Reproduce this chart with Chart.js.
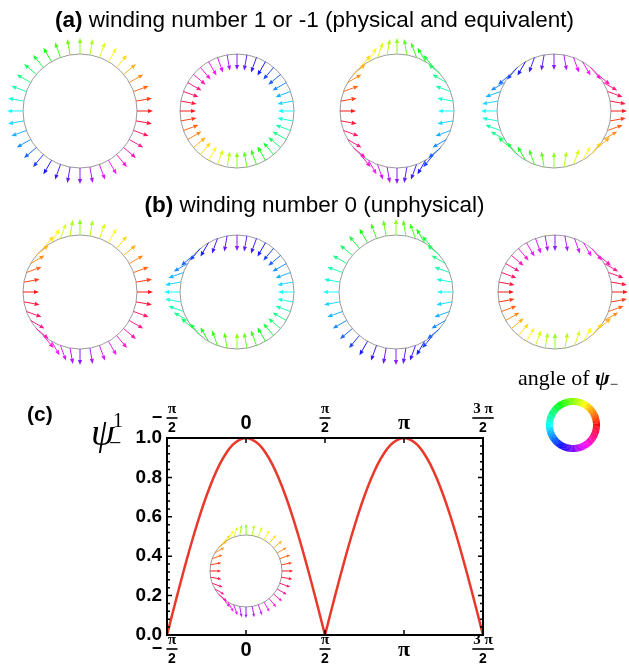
<!DOCTYPE html>
<html lang="en">
<head>
<meta charset="UTF-8">
<title>winding number</title>
<script src="https://cdn.jsdelivr.net/npm/chart.js"></script>
<style>
  body { margin: 0; background: #fff; font-family: "Liberation Sans", Arial, sans-serif; color: #000; }
  #wrap { position: relative; width: 629px; height: 671px; overflow: hidden; }
  #fig { position: absolute; left: 0; top: 0; }
  .lbl { position: absolute; white-space: nowrap; line-height: 1; }
  .title { left: 0; width: 629px; text-align: center; font-size: 22.5px; }
  .serif { font-family: "Liberation Serif", "DejaVu Serif", serif; }
</style>
</head>
<body>
<div id="wrap">
  <canvas id="fig" width="629" height="671"></canvas>
  <div class="lbl title" style="top:9px"><b>(a)</b> winding number 1 or -1 (physical and equivalent)</div>
  <div class="lbl title" style="top:194px"><b>(b)</b> winding number 0 (unphysical)</div>
  <div class="lbl" style="left:27px;top:403px;font-size:21px;font-weight:bold">(c)</div>
  <div class="lbl serif" style="left:91px;top:413px;font-size:38px;font-style:italic">ψ</div>
  <div class="lbl serif" style="left:113px;top:410px;font-size:20px">1</div>
  <div class="lbl serif" style="left:109px;top:432px;font-size:22px">−</div>
  <div class="lbl serif" style="left:518px;top:367px;font-size:22px">angle of <b><i>ψ</i></b><span style="font-size:15px;position:relative;top:4px">−</span></div>
</div>
<script>
// curve: psi^1_-, x step pi/24 from -pi/2 to 3pi/2
const xStart = -Math.PI / 2;
const xStep = Math.PI / 24;
const psiValues = [
  0, 0.131, 0.259, 0.383, 0.5, 0.609, 0.707, 0.793, 0.866, 0.924, 0.966, 0.991, 1,
  0.991, 0.966, 0.924, 0.866, 0.793, 0.707, 0.609, 0.5, 0.383, 0.259, 0.131, 0,
  0.131, 0.259, 0.383, 0.5, 0.609, 0.707, 0.793, 0.866, 0.924, 0.966, 0.991, 1,
  0.991, 0.966, 0.924, 0.866, 0.793, 0.707, 0.609, 0.5, 0.383, 0.259, 0.131, 0
];
// index ranges of the two arches (the cusp sits between them)
const arches = [[0, 24], [24, 48]];

// x tick labels (value in units of pi)
const xTickPi = [-0.5, 0, 0.5, 1, 1.5];
const xTickSign = ['−', '', '', '', ''];
const xTickNum = ['π', '0', 'π', 'π', '3 π'];
const xTickDen = ['2', '', '2', '', '2'];

// arrow diagrams: which field each circle shows
// dir = offset + sign * phi   (fold: phi replaced by asin(sin phi))
const topFields = [
  { offset: 0, sign: 1, fold: false },
  { offset: 180, sign: 1, fold: false },
  { offset: 180, sign: -1, fold: false },
  { offset: 0, sign: -1, fold: false }
];
const bottomFields = [
  { offset: 0, sign: 1, fold: true },
  { offset: 180, sign: 1, fold: true },
  { offset: 180, sign: -1, fold: true },
  { offset: 0, sign: -1, fold: true }
];
const topCentersX = [80, 237, 397, 554];
const bottomCentersX = [80, 237, 396, 555];
const insetAt = { x: 0, y: 0.325 };

const rad = Math.PI / 180;
const points = psiValues.map((v, i) => ({ x: xStart + i * xStep, y: v }));

function fieldDir(f, phi) {
  let p = phi;
  if (f.fold) p = Math.asin(Math.sin(phi));
  return f.offset * rad + f.sign * p;
}

function arrow(ctx, x, y, a, len, head, color) {
  const ux = Math.cos(a), uy = -Math.sin(a);
  const tx = x + ux * len, ty = y + uy * len;
  const bx = tx - ux * head, by = ty - uy * head;
  const w = head * 0.42;
  ctx.strokeStyle = color;
  ctx.fillStyle = color;
  ctx.lineWidth = 1;
  ctx.beginPath();
  ctx.moveTo(x, y);
  ctx.lineTo(bx, by);
  ctx.stroke();
  ctx.beginPath();
  ctx.moveTo(tx, ty);
  ctx.lineTo(bx - uy * w, by + ux * w);
  ctx.lineTo(bx + uy * w, by - ux * w);
  ctx.closePath();
  ctx.fill();
}

function hueOf(a) {
  let h = (a / rad) % 360;
  if (h < 0) h += 360;
  return 'hsl(' + h.toFixed(1) + ',100%,55%)';
}

function diagram(ctx, cx, cy, r, len, head, f) {
  ctx.save();
  ctx.strokeStyle = '#9a9a9a';
  ctx.lineWidth = 1;
  ctx.beginPath();
  ctx.arc(cx, cy, r, 0, 2 * Math.PI);
  ctx.stroke();
  for (let k = 0; k < 36; k++) {
    const phi = k * 10 * rad;
    const px = cx + r * Math.cos(phi), py = cy - r * Math.sin(phi);
    const d = fieldDir(f, phi);
    arrow(ctx, px, py, d, len, head, hueOf(d));
  }
  ctx.restore();
}

const figurePlugin = {
  id: 'figure',
  beforeDatasetsDraw(chart) {
    const ctx = chart.ctx;
    const sx = chart.scales.x, sy = chart.scales.y;
    diagram(ctx, sx.getPixelForValue(insetAt.x), sy.getPixelForValue(insetAt.y), 36, 11, 3.5, bottomFields[0]);
  },
  afterDraw(chart) {
    const ctx = chart.ctx;
    const { left, right, top, bottom } = chart.chartArea;
    const sx = chart.scales.x, sy = chart.scales.y;
    ctx.save();
    // frame
    ctx.strokeStyle = '#000';
    ctx.lineWidth = 2;
    ctx.strokeRect(left, top, right - left, bottom - top);
    // ticks, pointing inward
    ctx.lineWidth = 1.5;
    ctx.beginPath();
    xTickPi.forEach(v => {
      const x = sx.getPixelForValue(v * Math.PI);
      ctx.moveTo(x, bottom); ctx.lineTo(x, bottom - 5);
      ctx.moveTo(x, top); ctx.lineTo(x, top + 5);
    });
    for (let i = 0; i <= 25; i++) {
      const y = sy.getPixelForValue(i * 0.04);
      const l = i % 5 === 0 ? 5 : 3;
      ctx.moveTo(left, y); ctx.lineTo(left + l, y);
      ctx.moveTo(right, y); ctx.lineTo(right - l, y);
    }
    ctx.stroke();
    // x tick labels, top and bottom
    ctx.fillStyle = '#000';
    ctx.textAlign = 'center';
    ctx.textBaseline = 'middle';
    [{ bar: 418, mid: 423 }, { bar: 649, mid: 650 }].forEach(pos => {
      xTickPi.forEach((v, i) => {
        const x = sx.getPixelForValue(v * Math.PI);
        if (!xTickDen[i]) {
          ctx.font = (xTickNum[i] === 'π' ? 'bold 22px "Liberation Serif"' : 'bold 20px "Liberation Sans"');
          ctx.fillText(xTickNum[i], x, pos.mid);
          return;
        }
        let fx = x;
        if (xTickSign[i]) {
          ctx.font = 'bold 18px "Liberation Sans"';
          ctx.fillText(xTickSign[i], x - 10, pos.bar);
          fx = x + 5;
        }
        ctx.font = 'bold 15px "Liberation Serif"';
        const wn = ctx.measureText(xTickNum[i]).width;
        ctx.fillText(xTickNum[i], fx, pos.bar - 9);
        ctx.font = 'bold 14px "Liberation Sans"';
        ctx.fillText(xTickDen[i], fx, pos.bar + 10);
        ctx.fillRect(fx - Math.max(wn, 9) / 2 - 1, pos.bar - 0.8, Math.max(wn, 9) + 2, 1.6);
      });
    });
    ctx.restore();
    // arrow diagrams of panels (a) and (b)
    topFields.forEach((f, i) => diagram(ctx, topCentersX[i], 111, 57, 16, 5, f));
    bottomFields.forEach((f, i) => diagram(ctx, bottomCentersX[i], 292, 57, 16, 5, f));
    // hue ring legend
    ctx.save();
    ctx.lineWidth = 7;
    for (let d = 0; d < 360; d += 2) {
      ctx.strokeStyle = 'hsl(' + d + ',100%,50%)';
      ctx.beginPath();
      ctx.arc(573, 425, 23.5, -(d + 2.5) * rad, -d * rad);
      ctx.stroke();
    }
    ctx.restore();
  }
};

new Chart(document.getElementById('fig').getContext('2d'), {
  type: 'line',
  data: {
    datasets: arches.map(([a, b]) => ({
      data: points.slice(a, b + 1),
      borderColor: '#e8392b',
      borderWidth: 2.5,
      pointRadius: 0,
      tension: 0.4,
      fill: false
    }))
  },
  options: {
    responsive: false,
    animation: false,
    devicePixelRatio: 1,
    layout: { padding: { left: 107, top: 438, right: 146, bottom: 36 } },
    plugins: { legend: { display: false }, tooltip: { enabled: false } },
    scales: {
      x: { type: 'linear', min: -Math.PI / 2, max: 1.5 * Math.PI, display: false },
      y: {
        min: 0, max: 1,
        grid: { display: false, drawTicks: false },
        border: { display: false },
        ticks: {
          stepSize: 0.2,
          padding: 5,
          color: '#000',
          font: { family: 'Liberation Sans', weight: 'bold', size: 19 },
          callback: v => v.toFixed(1)
        },
        afterFit: s => { s.width = 60; }
      }
    }
  },
  plugins: [figurePlugin]
});
</script>
</body>
</html>
